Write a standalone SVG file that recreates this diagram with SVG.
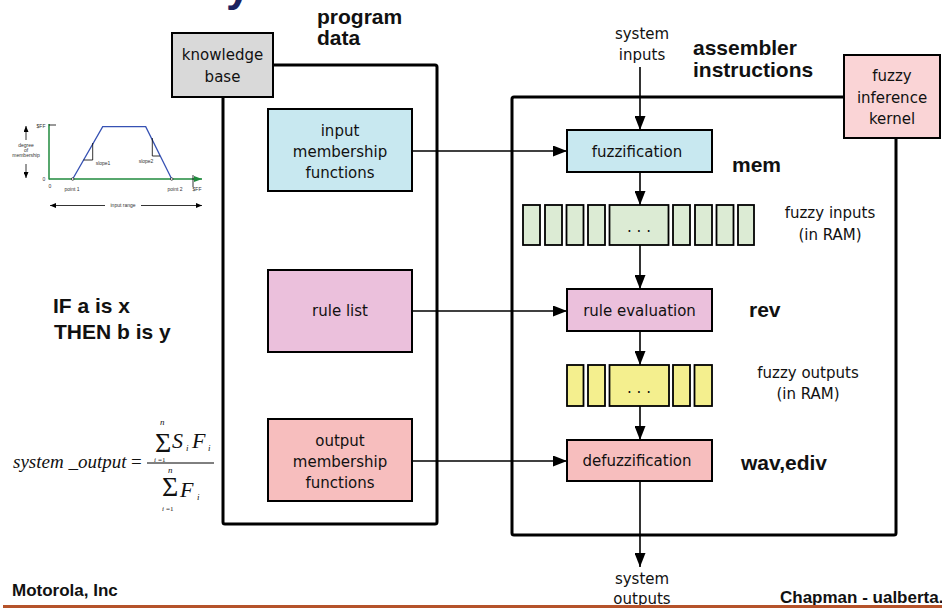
<svg xmlns="http://www.w3.org/2000/svg" width="942" height="608" viewBox="0 0 942 608">
  <style>
    .frame { fill: none; stroke: #000; stroke-width: 3; }
    .box { stroke: #000; stroke-width: 2; }
    .lbl { font-family: "DejaVu Sans", sans-serif; font-size: 15px; fill: #111; text-anchor: middle; }
    .bold { font-family: "Liberation Sans", Arial, sans-serif; font-weight: bold; font-size: 21px; fill: #111; }
    .conn { fill: none; stroke: #000; stroke-width: 1.6; marker-end: url(#arrow); }
    .cell-g { fill: #dcebd4; stroke: #000; stroke-width: 1.8; }
    .cell-y { fill: #f4ef8e; stroke: #000; stroke-width: 1.8; }
    .math { font-family: "Liberation Serif", "Times New Roman", serif; font-style: italic; fill: #111; }
    .mathn { font-family: "Liberation Serif", "Times New Roman", serif; fill: #111; }
    .tiny { font-family: "Liberation Sans", Arial, sans-serif; font-size: 5px; fill: #333; text-anchor: middle; }
    .foot { font-family: "Liberation Sans", Arial, sans-serif; font-weight: bold; font-size: 17px; fill: #111; }
  </style>
  <defs>
    <marker id="arrow" viewBox="0 0 14 11" refX="14" refY="5.5" markerWidth="14" markerHeight="11" markerUnits="userSpaceOnUse" orient="auto">
      <path d="M0,0 L14,5.5 L0,11 z" fill="#000"/>
    </marker>
    <marker id="arrow-g" viewBox="0 0 8 6" refX="8" refY="3" markerWidth="8" markerHeight="6" markerUnits="userSpaceOnUse" orient="auto">
      <path d="M0,0 L8,3 L0,6 z" fill="#1f8a3c"/>
    </marker>
    <marker id="arrow-s" viewBox="0 0 6 5" refX="6" refY="2.5" markerWidth="6" markerHeight="5" markerUnits="userSpaceOnUse" orient="auto">
      <path d="M0,0 L6,2.5 L0,5 z" fill="#000"/>
    </marker>
  </defs>

  <rect width="942" height="608" fill="#fff"/>

  <!-- title descender cut by the top edge -->
  <text x="226" y="1" font-family="Liberation Sans, Arial, sans-serif" font-weight="bold" font-size="44" fill="#1c2260">y</text>

  <!-- program data frame -->
  <g id="program-data">
    <rect class="frame" x="223" y="65" width="214" height="459" rx="2"/>
    <text class="bold" x="317" y="24">program</text>
    <text class="bold" x="317" y="45">data</text>
  </g>

  <!-- assembler instructions frame -->
  <g id="assembler">
    <rect class="frame" x="512" y="97" width="384" height="438" rx="2"/>
    <text class="bold" x="693" y="55">assembler</text>
    <text class="bold" x="693" y="77">instructions</text>
  </g>

  <g id="knowledge-base">
    <rect class="box" x="172" y="33" width="101" height="64" fill="#d9d9d9"/>
    <text class="lbl" x="222.5" y="60">knowledge</text>
    <text class="lbl" x="222.5" y="82">base</text>
  </g>

  <g id="fuzzy-kernel">
    <rect class="box" x="844" y="55" width="96" height="83" fill="#fad4d6"/>
    <text class="lbl" x="892" y="81">fuzzy</text>
    <text class="lbl" x="892" y="103">inference</text>
    <text class="lbl" x="892" y="124">kernel</text>
  </g>

  <g id="input-mf">
    <rect class="box" x="268" y="109" width="144" height="82" fill="#c8e8f0"/>
    <text class="lbl" x="340" y="136">input</text>
    <text class="lbl" x="340" y="157">membership</text>
    <text class="lbl" x="340" y="178">functions</text>
  </g>

  <g id="rule-list">
    <rect class="box" x="268" y="270" width="144" height="82" fill="#ebc0dc"/>
    <text class="lbl" x="340" y="316">rule list</text>
  </g>

  <g id="output-mf">
    <rect class="box" x="268" y="419" width="144" height="82" fill="#f7bebe"/>
    <text class="lbl" x="340" y="446">output</text>
    <text class="lbl" x="340" y="467">membership</text>
    <text class="lbl" x="340" y="488">functions</text>
  </g>

  <g id="system-inputs">
    <text class="lbl" x="642" y="39">system</text>
    <text class="lbl" x="642" y="60">inputs</text>
  </g>

  <g id="fuzzification">
    <rect class="box" x="567" y="130" width="145" height="42" fill="#c8e8f0"/>
    <text class="lbl" x="637" y="157">fuzzification</text>
    <text class="bold" x="732" y="172">mem</text>
  </g>

  <g id="fuzzy-inputs">
    <rect class="cell-g" x="523" y="205" width="17" height="40"/>
    <rect class="cell-g" x="545" y="205" width="17" height="40"/>
    <rect class="cell-g" x="566.5" y="205" width="17" height="40"/>
    <rect class="cell-g" x="588" y="205" width="17" height="40"/>
    <rect class="cell-g" x="609.5" y="205" width="59" height="40"/>
    <rect class="cell-g" x="673" y="205" width="17" height="40"/>
    <rect class="cell-g" x="695" y="205" width="17" height="40"/>
    <rect class="cell-g" x="716.5" y="205" width="17" height="40"/>
    <rect class="cell-g" x="738" y="205" width="16" height="40"/>
    <text class="lbl" x="639" y="232" font-size="13">. . .</text>
    <text class="lbl" x="830" y="218">fuzzy inputs</text>
    <text class="lbl" x="830" y="240">(in RAM)</text>
  </g>

  <g id="rule-evaluation">
    <rect class="box" x="567" y="289" width="145" height="42" fill="#ebc0dc"/>
    <text class="lbl" x="639.5" y="316">rule evaluation</text>
    <text class="bold" x="749" y="317">rev</text>
  </g>

  <g id="fuzzy-outputs">
    <rect class="cell-y" x="567" y="365" width="16.5" height="41"/>
    <rect class="cell-y" x="588" y="365" width="17" height="41"/>
    <rect class="cell-y" x="609.5" y="365" width="59.5" height="41"/>
    <rect class="cell-y" x="673" y="365" width="17" height="41"/>
    <rect class="cell-y" x="694.5" y="365" width="17.5" height="41"/>
    <text class="lbl" x="639" y="393" font-size="13">. . .</text>
    <text class="lbl" x="808" y="378">fuzzy outputs</text>
    <text class="lbl" x="808" y="399">(in RAM)</text>
  </g>

  <g id="defuzzification">
    <rect class="box" x="567" y="440" width="145" height="41" fill="#f7bebe"/>
    <text class="lbl" x="637" y="466">defuzzification</text>
    <text class="bold" x="741" y="470">wav,ediv</text>
  </g>

  <g id="system-outputs">
    <text class="lbl" x="642" y="584">system</text>
    <text class="lbl" x="642" y="604">outputs</text>
  </g>

  <!-- connectors -->
  <g id="connectors">
    <path class="conn" d="M640,67 V130"/>
    <path class="conn" d="M412,151 H567"/>
    <path class="conn" d="M640,172 V205"/>
    <path class="conn" d="M640,245 V289"/>
    <path class="conn" d="M412,311 H567"/>
    <path class="conn" d="M640,331 V365"/>
    <path class="conn" d="M640,406 V440"/>
    <path class="conn" d="M412,461 H567"/>
    <path class="conn" d="M640,481 V567"/>
  </g>

  <!-- rule example -->
  <g id="rule-example">
    <text class="bold" x="53" y="313" font-size="25">IF a is x</text>
    <text class="bold" x="54" y="339" font-size="25">THEN b is y</text>
  </g>

  <!-- membership function sketch -->
  <g id="membership-sketch">
    <line x1="49" y1="124" x2="49" y2="179.5" stroke="#1f8a3c" stroke-width="1.5"/>
    <line x1="49" y1="179" x2="202" y2="179" stroke="#1f8a3c" stroke-width="1.5" marker-end="url(#arrow-g)"/>
    <line x1="49" y1="125" x2="56" y2="125" stroke="#000" stroke-width="0.8"/>
    <line x1="193" y1="175" x2="193" y2="187" stroke="#000" stroke-width="0.8"/>
    <polyline points="72.7,179 102.7,126.7 145.7,126.7 171.7,179" fill="none" stroke="#3651b3" stroke-width="1.3"/>
    <polyline points="83.6,160 92.7,160 92.7,143" fill="none" stroke="#000" stroke-width="0.8"/>
    <polyline points="152.3,138 152.3,156 160,156" fill="none" stroke="#000" stroke-width="0.8"/>
    <circle cx="72.7" cy="179" r="1.3" fill="#fff" stroke="#000" stroke-width="0.6"/>
    <circle cx="171.7" cy="179" r="1.3" fill="#fff" stroke="#000" stroke-width="0.6"/>
    <text class="tiny" x="41" y="128">$FF</text>
    <text class="tiny" x="44" y="181">0</text>
    <text class="tiny" x="50" y="188">0</text>
    <text class="tiny" x="103" y="165">slope1</text>
    <text class="tiny" x="146" y="163">slope2</text>
    <text class="tiny" x="72" y="191">point 1</text>
    <text class="tiny" x="175" y="191">point 2</text>
    <text class="tiny" x="197" y="191">$FF</text>
    <text class="tiny" x="26" y="147">degree</text>
    <text class="tiny" x="26" y="152">of</text>
    <text class="tiny" x="26" y="157">membership</text>
    <line x1="26" y1="140" x2="26" y2="126" stroke="#000" stroke-width="0.8" marker-end="url(#arrow-s)"/>
    <line x1="26" y1="164" x2="26" y2="178" stroke="#000" stroke-width="0.8" marker-end="url(#arrow-s)"/>
    <line x1="105" y1="205.5" x2="50" y2="205.5" stroke="#000" stroke-width="0.8" marker-end="url(#arrow-s)"/>
    <line x1="141" y1="205.5" x2="202" y2="205.5" stroke="#000" stroke-width="0.8" marker-end="url(#arrow-s)"/>
    <text class="tiny" x="123" y="207">input range</text>
  </g>

  <!-- centroid formula -->
  <g id="formula">
    <text class="math" x="13" y="468" font-size="19">system _output</text>
    <text class="mathn" x="131" y="468" font-size="19">=</text>
    <line x1="147" y1="463" x2="214" y2="463" stroke="#000" stroke-width="1"/>
    <text class="math" x="160" y="425" font-size="9">n</text>
    <text class="mathn" x="155" y="452" font-size="28">Σ</text>
    <text class="math" x="154" y="462" font-size="7">i</text>
    <text class="mathn" x="158" y="462" font-size="7">=1</text>
    <text class="math" x="172" y="448" font-size="22">S</text>
    <text class="math" x="186" y="451" font-size="9">i</text>
    <text class="math" x="192" y="448" font-size="22">F</text>
    <text class="math" x="208" y="451" font-size="9">i</text>
    <text class="math" x="168" y="473" font-size="9">n</text>
    <text class="mathn" x="162" y="496" font-size="28">Σ</text>
    <text class="math" x="162" y="511" font-size="7">i</text>
    <text class="mathn" x="166" y="511" font-size="7">=1</text>
    <text class="math" x="180" y="497" font-size="22">F</text>
    <text class="math" x="197" y="500" font-size="9">i</text>
  </g>

  <!-- footer -->
  <g id="footer">
    <text class="foot" x="12" y="596">Motorola, Inc</text>
    <text class="foot" x="780" y="603" font-size="14.5">Chapman - ualberta.c</text>
    <rect x="3" y="605" width="939" height="3" fill="#b5532a"/>
  </g>
</svg>
